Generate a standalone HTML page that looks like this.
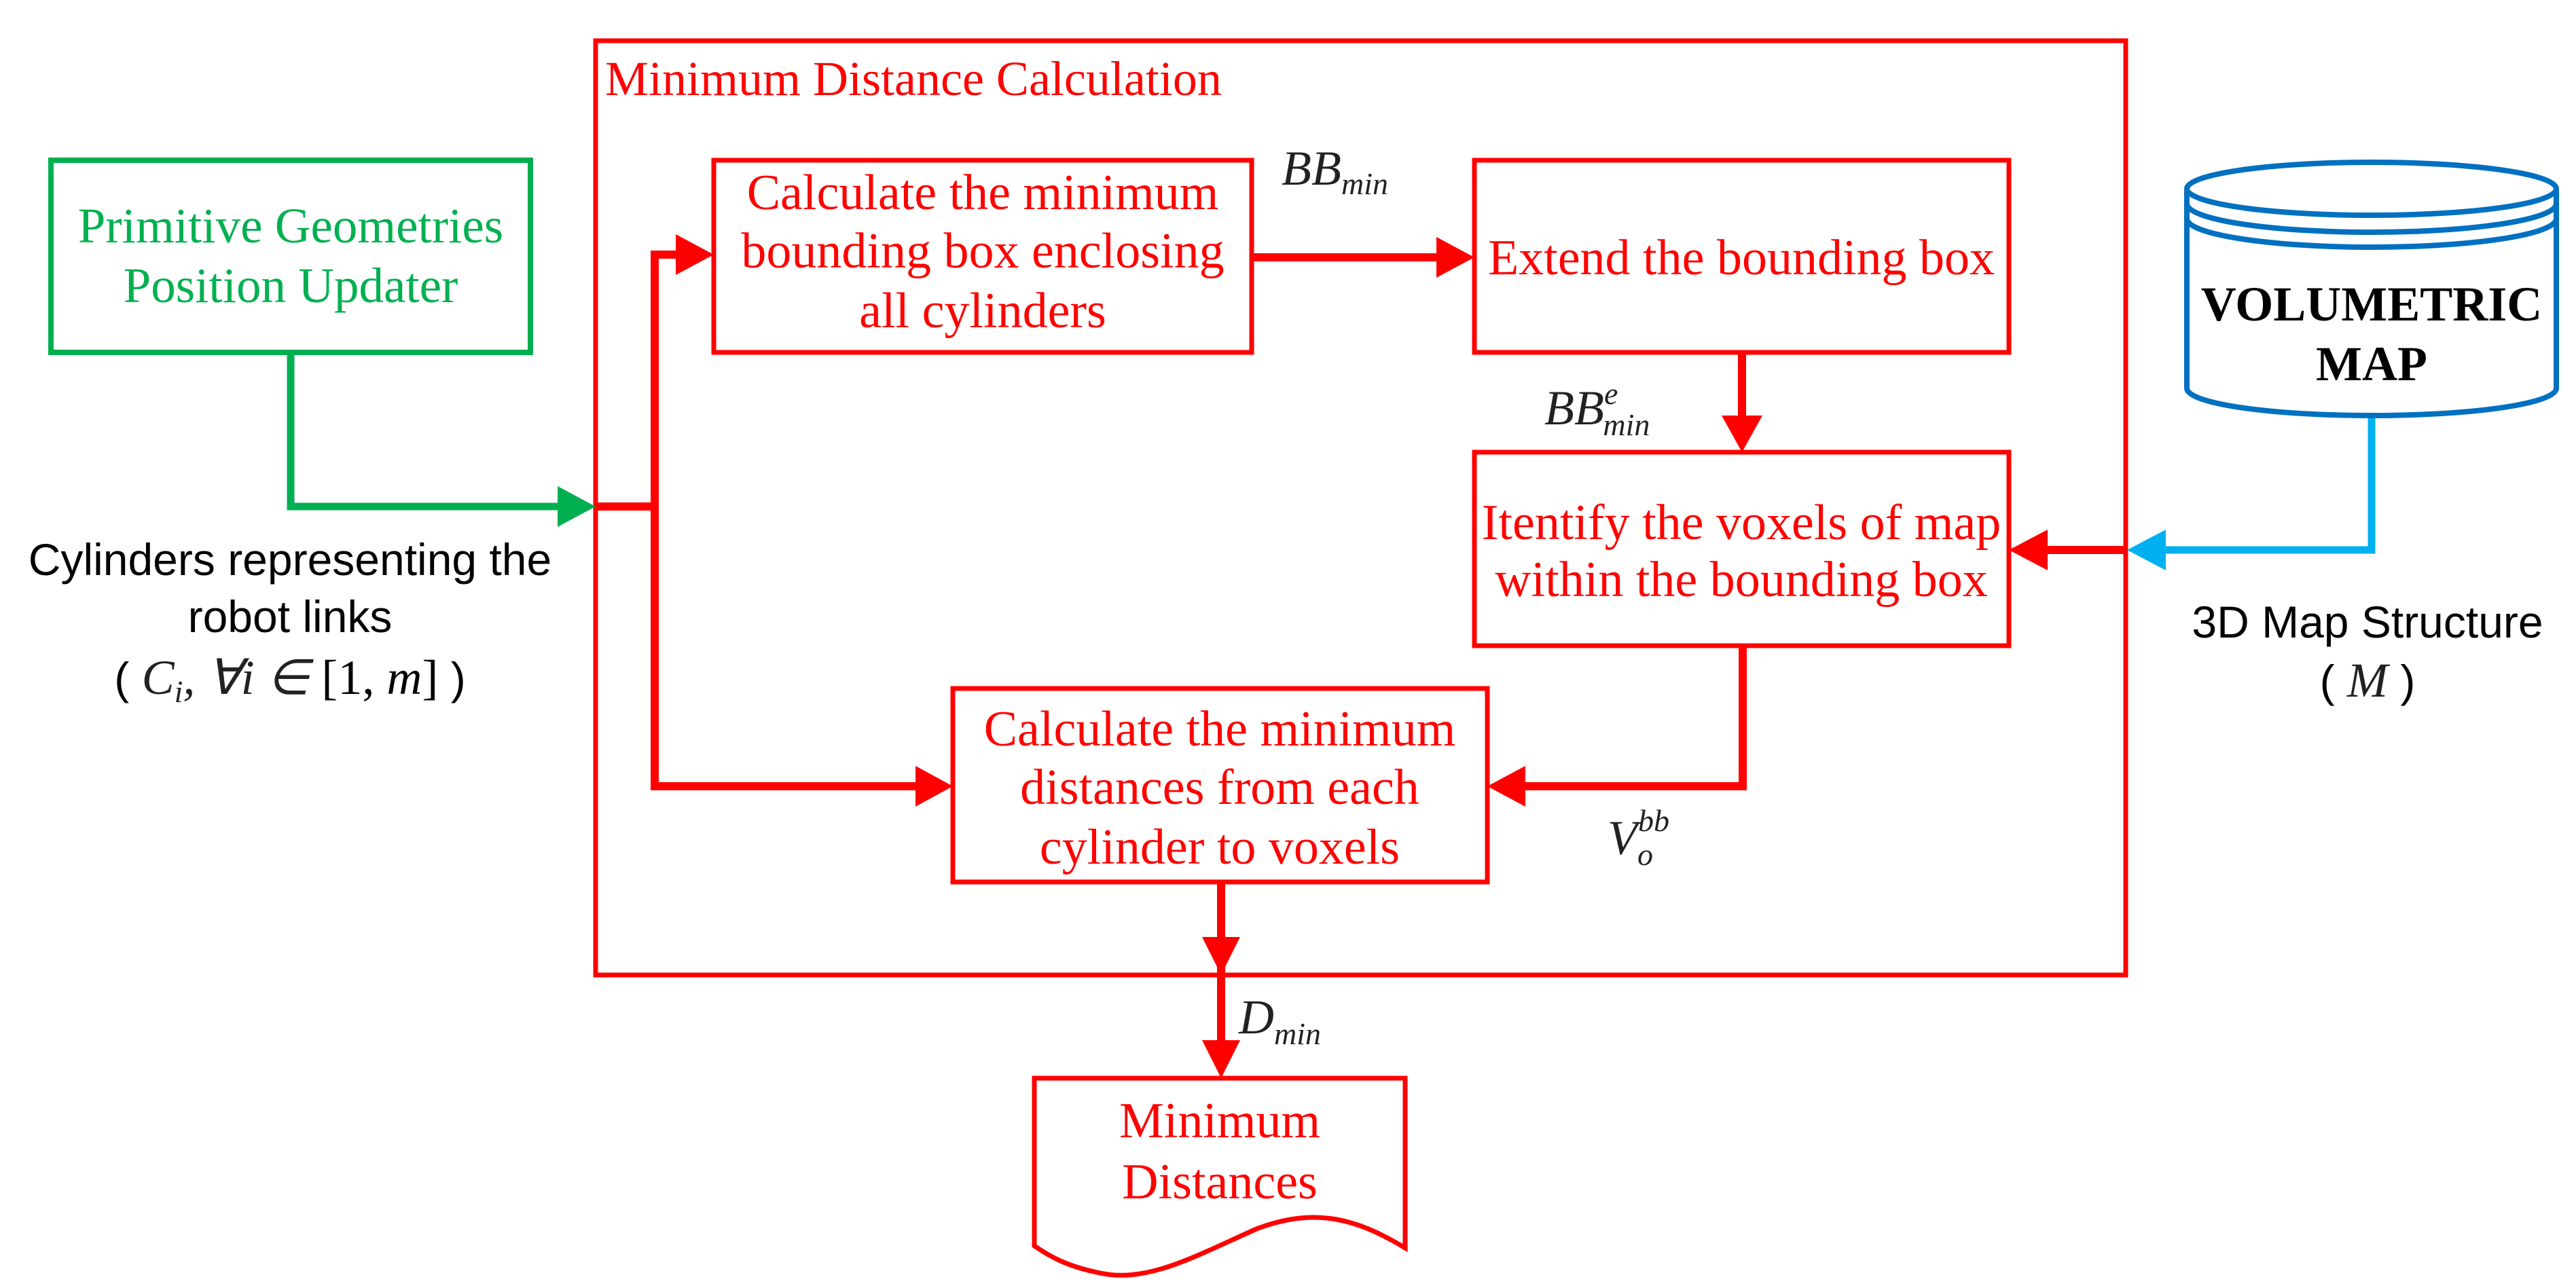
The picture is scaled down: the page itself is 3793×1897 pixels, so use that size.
<!DOCTYPE html>
<html><head><meta charset="utf-8"><style>
html,body{margin:0;padding:0;background:#fff}
svg{display:block}
.r{font-family:"Liberation Serif",serif;fill:#ff0000;font-size:74px}
.g{font-family:"Liberation Serif",serif;fill:#00b050;font-size:73px}
.k{font-family:"Liberation Sans",sans-serif;fill:#000;font-size:66px}
.m{font-family:"Liberation Serif",serif;font-style:italic;fill:#222;font-size:72px}
.s{font-size:46px}
</style></head><body>
<svg width="3793" height="1897" viewBox="0 0 3793 1897" xmlns="http://www.w3.org/2000/svg">
<!-- outer box -->
<rect x="877" y="60" width="2253" height="1376" fill="none" stroke="#ff0000" stroke-width="7"/>
<text x="891" y="140" class="r" style="font-size:72px">Minimum Distance Calculation</text>

<!-- green box -->
<rect x="75" y="236" width="706" height="283" fill="none" stroke="#00b050" stroke-width="8"/>
<text x="428" y="357" class="g" text-anchor="middle">Primitive Geometries</text>
<text x="428" y="445" class="g" text-anchor="middle">Position Updater</text>
<polyline points="428,519 428,746 830,746" fill="none" stroke="#00b050" stroke-width="11"/>
<polygon points="821,716 877,746 821,776" fill="#00b050"/>

<!-- cylinders text -->
<text x="427" y="847" class="k" text-anchor="middle">Cylinders representing the</text>
<text x="427" y="931" class="k" text-anchor="middle">robot links</text>
<text x="427" y="1022" class="k" text-anchor="middle">( <tspan class="m">C<tspan class="s" dy="12">i</tspan><tspan dy="-12">, ∀i ∈ </tspan></tspan><tspan font-family="Liberation Serif" style="font-size:72px">[1, <tspan font-style="italic">m</tspan>]</tspan> )</text>

<!-- red trunk -->
<polyline points="877,746 964,746" fill="none" stroke="#ff0000" stroke-width="12"/>
<polyline points="1000,375 964,375 964,1158 1350,1158" fill="none" stroke="#ff0000" stroke-width="12"/>
<polygon points="995,345 1051,375 995,405" fill="#ff0000"/>
<polygon points="1348,1128 1403,1158 1348,1188" fill="#ff0000"/>

<!-- box1 -->
<rect x="1051" y="236" width="792" height="283" fill="none" stroke="#ff0000" stroke-width="7"/>
<text x="1447" y="308" class="r" text-anchor="middle">Calculate the minimum</text>
<text x="1447" y="394" class="r" text-anchor="middle">bounding box enclosing</text>
<text x="1447" y="482" class="r" text-anchor="middle">all cylinders</text>

<!-- box1 -> box2 -->
<line x1="1843" y1="379" x2="2125" y2="379" stroke="#ff0000" stroke-width="12"/>
<polygon points="2115,349 2171,379 2115,409" fill="#ff0000"/>
<text x="1887" y="272" class="m">BB<tspan class="s" dy="14">min</tspan></text>

<!-- box2 -->
<rect x="2171" y="236" width="787" height="283" fill="none" stroke="#ff0000" stroke-width="7"/>
<text x="2564" y="404" class="r" text-anchor="middle">Extend the bounding box</text>

<!-- box2 -> box3 -->
<line x1="2565" y1="519" x2="2565" y2="620" stroke="#ff0000" stroke-width="12"/>
<polygon points="2535,612 2565,666 2595,612" fill="#ff0000"/>
<text x="2274" y="625" class="m">BB<tspan class="s" dy="-30">e</tspan><tspan class="s" dx="-22" dy="46">min</tspan></text>

<!-- box3 -->
<rect x="2171" y="666" width="787" height="285" fill="none" stroke="#ff0000" stroke-width="7"/>
<text x="2564" y="794" class="r" text-anchor="middle">Itentify the voxels of map</text>
<text x="2564" y="878" class="r" text-anchor="middle">within the bounding box</text>

<!-- into box3 from right -->
<line x1="3130" y1="810" x2="3005" y2="810" stroke="#ff0000" stroke-width="12"/>
<polygon points="3015,780 2958,810 3015,840" fill="#ff0000"/>

<!-- blue connector -->
<polyline points="3492,610 3492,810 3180,810" fill="none" stroke="#00b0f0" stroke-width="11"/>
<polygon points="3189,780 3132,810 3189,840" fill="#00b0f0"/>

<!-- cylinder -->
<g fill="none" stroke="#0070c0" stroke-width="8">
<path d="M3220,280 L3220,572 A272,40 0 0 0 3764,572 L3764,280"/>
<ellipse cx="3492" cy="278" rx="272" ry="39"/>
<path d="M3220,300 A272,42 0 0 0 3764,300"/>
<path d="M3220,322 A272,42 0 0 0 3764,322"/>
</g>
<text x="3492" y="472" text-anchor="middle" font-family="Liberation Serif" font-weight="bold" font-size="72" fill="#000">VOLUMETRIC</text>
<text x="3492" y="560" text-anchor="middle" font-family="Liberation Serif" font-weight="bold" font-size="72" fill="#000">MAP</text>
<text x="3486" y="939" class="k" text-anchor="middle">3D Map Structure</text>
<text x="3486" y="1026" class="k" text-anchor="middle">( <tspan class="m">M</tspan> )</text>

<!-- box3 -> box4 -->
<polyline points="2566,951 2566,1158 2240,1158" fill="none" stroke="#ff0000" stroke-width="12"/>
<polygon points="2246,1128 2190,1158 2246,1188" fill="#ff0000"/>
<text x="2367" y="1258" class="m">V<tspan class="s" dy="16">o</tspan><tspan class="s" dx="-22" dy="-50">bb</tspan></text>

<!-- box4 -->
<rect x="1403" y="1014" width="787" height="285" fill="none" stroke="#ff0000" stroke-width="7"/>
<text x="1796" y="1098" class="r" text-anchor="middle">Calculate the minimum</text>
<text x="1796" y="1184" class="r" text-anchor="middle">distances from each</text>
<text x="1796" y="1272" class="r" text-anchor="middle">cylinder to voxels</text>

<!-- box4 -> document -->
<line x1="1798" y1="1299" x2="1798" y2="1540" stroke="#ff0000" stroke-width="12"/>
<polygon points="1770,1380 1798,1436 1826,1380" fill="#ff0000"/>
<polygon points="1770,1532 1798,1588 1826,1532" fill="#ff0000"/>
<text x="1824" y="1522" class="m">D<tspan class="s" dy="16">min</tspan></text>

<!-- document -->
<path d="M1523,1835 L1523,1588 L2069,1588 L2069,1838 C1990,1790 1930,1780 1850,1810 C1760,1850 1690,1890 1620,1875 C1570,1865 1545,1850 1523,1835 Z" fill="none" stroke="#ff0000" stroke-width="7"/>
<text x="1796" y="1675" class="r" text-anchor="middle">Minimum</text>
<text x="1796" y="1765" class="r" text-anchor="middle">Distances</text>
</svg>
</body></html>
